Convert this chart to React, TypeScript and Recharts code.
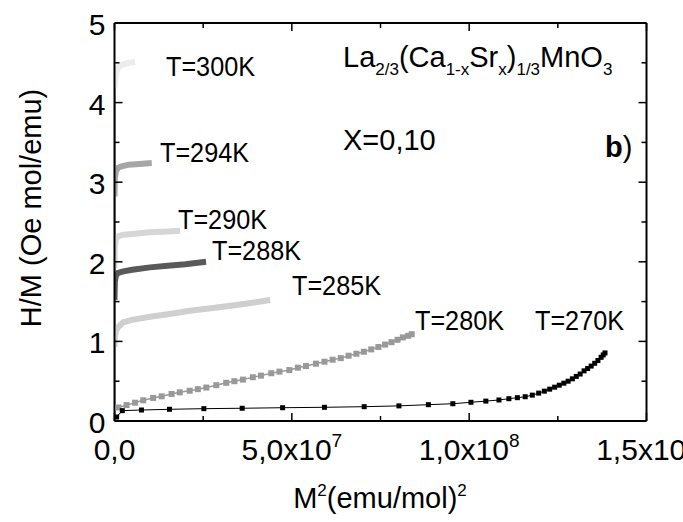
import { LineChart, Line, XAxis, YAxis } from "recharts"

// M^2 in units of 1e6 (emu/mol)^2, H/M in Oe mol/emu
const t300M2 = [0, 0.2, 0.6, 1.2, 2.4, 4, 5.8]
const t300HM = [4.18, 4.3, 4.4, 4.45, 4.48, 4.5, 4.51]

const t294M2 = [0, 0.1, 0.4, 1, 2, 4, 7, 10.5]
const t294HM = [2.82, 3.05, 3.14, 3.18, 3.2, 3.22, 3.23, 3.24]

const t290M2 = [0, 0.1, 0.4, 1, 2.5, 5, 10, 15, 18.5]
const t290HM = [1.92, 2.2, 2.29, 2.32, 2.34, 2.35, 2.37, 2.38, 2.39]

const t288M2 = [0, 0.1, 0.4, 1, 2.5, 5, 10, 15, 20, 25.8]
const t288HM = [1.52, 1.75, 1.83, 1.86, 1.88, 1.9, 1.93, 1.95, 1.97, 2.0]

const t285M2 = [0, 0.1, 0.4, 1, 2.5, 5, 10, 15, 21.3, 30.6, 38, 43.9]
const t285HM = [0.93, 1.05, 1.13, 1.18, 1.24, 1.27, 1.31, 1.34, 1.385, 1.436, 1.48, 1.52]

const t280M2 = [
  1.1, 3.4, 5.8, 8.1, 10.9, 13.3, 16.1, 18.4, 21.2, 23.5, 25.9, 28.7, 31.5, 33.8,
  36.2, 39, 41.3, 44.2, 46.5, 49.3, 51.7, 54, 56.8, 59.2, 61.5, 63.8, 66, 68.2,
  70.3, 72.4, 74.4, 76.3, 78.1, 79.8, 81.3, 82.8, 83.8,
]
const t280HM = [
  0.17, 0.2, 0.23, 0.26, 0.29, 0.31, 0.34, 0.36, 0.38, 0.4, 0.42, 0.45, 0.48, 0.5,
  0.52, 0.55, 0.57, 0.6, 0.62, 0.64, 0.67, 0.69, 0.72, 0.745, 0.77, 0.79, 0.82, 0.845,
  0.87, 0.9, 0.93, 0.96, 0.99, 1.02, 1.05, 1.07, 1.09,
]

const t270M2 = [
  0.6, 2.2, 7.6, 15.5, 25.2, 36, 47.4, 59.2, 70.4, 80.2, 88.5, 95.4, 100.5, 104.7,
  108.4, 111.2, 113.6, 115.8, 117.8, 119.6, 121.2, 122.7, 124.1, 125.4, 126.7, 127.9,
  129.1, 130.2, 131.3, 132.4, 133.4, 134.4, 135.4, 136.3, 137.2, 137.8, 138.3,
]
const t270HM = [
  0.05, 0.13, 0.138, 0.147, 0.155, 0.16, 0.167, 0.172, 0.18, 0.19, 0.205, 0.217, 0.235, 0.25,
  0.264, 0.28, 0.293, 0.305, 0.325, 0.35, 0.375, 0.4, 0.425, 0.45, 0.475, 0.5,
  0.53, 0.56, 0.59, 0.63, 0.66, 0.69, 0.725, 0.76, 0.8, 0.83, 0.855,
]

// low-field trace running along the H/M axis
const lowM2 = [0, 0]
const lowHM = [4.2, 0]

const m2Ticks = [0, 25, 50, 75, 100, 125, 150]
const m2Labels: Record<number, [string, string]> = {
  0: ["0,0", ""],
  50: ["5,0x10", "7"],
  100: ["1,0x10", "8"],
  150: ["1,5x10", "8"],
}
const hmTicks = [0, 0.5, 1, 1.5, 2, 2.5, 3, 3.5, 4, 4.5, 5]
const hmLabels: Record<number, string> = { 0: "0", 1: "1", 2: "2", 3: "3", 4: "4", 5: "5" }

const tempLabels = ["T=300K", "T=294K", "T=290K", "T=288K", "T=285K", "T=280K", "T=270K"]
const tempLabelPos = [
  [166, 76], [160, 162], [178, 229], [212, 260], [292, 295], [415, 330], [535, 330],
]

const toPoints = (xs: number[], ys: number[]) => xs.map((x, i) => ({ x, y: ys[i] }))

const FONT = "'Liberation Sans', Arial, sans-serif"

const BottomTick = (props: any) => {
  const { x, y, payload } = props
  const lab = m2Labels[payload.value]
  return (
    <g>
      <line x1={x} x2={x} y1={y} y2={y - (lab ? 8 : 5)} stroke="#000" strokeWidth={1.5} />
      {lab && (
        <text x={x} y={y + 39} textAnchor="middle" fontSize={30} fontFamily={FONT} fill="#000">
          {lab[0]}
          {lab[1] && <tspan dy={-13} fontSize={19}>{lab[1]}</tspan>}
        </text>
      )}
    </g>
  )
}

const TopTick = (props: any) => {
  const { x, y, payload } = props
  const major = m2Labels[payload.value] !== undefined
  return <line x1={x} x2={x} y1={y} y2={y + (major ? 8 : 5)} stroke="#000" strokeWidth={1.5} />
}

const LeftTick = (props: any) => {
  const { x, y, payload } = props
  const lab = hmLabels[payload.value]
  return (
    <g>
      <line x1={x} x2={x + (lab ? 8 : 5)} y1={y} y2={y} stroke="#000" strokeWidth={1.5} />
      {lab && (
        <text x={x - 9} y={y + 12} textAnchor="end" fontSize={30} fontFamily={FONT} fill="#000">
          {lab}
        </text>
      )}
    </g>
  )
}

const RightTick = (props: any) => {
  const { x, y, payload } = props
  const major = hmLabels[payload.value] !== undefined
  return <line x1={x} x2={x - (major ? 8 : 5)} y1={y} y2={y} stroke="#000" strokeWidth={1.5} />
}

const squareDot = (size: number, color: string) => (p: any) => (
  <rect
    key={`d${p.index}`}
    x={p.cx - size / 2}
    y={p.cy - size / 2}
    width={size}
    height={size}
    fill={color}
  />
)

export default function App() {
  const axisLine = { stroke: "#000", strokeWidth: 2 }
  return (
    <div style={{ position: "absolute", left: 0, top: 0, width: 683, height: 522, background: "#fff" }}>
      <LineChart width={683} height={522} margin={{ top: 22, right: 35.5, bottom: 100, left: 113.5 }}>
        <XAxis
          xAxisId="b"
          dataKey="x"
          type="number"
          domain={[0, 150]}
          ticks={m2Ticks}
          interval={0}
          height={1}
          tickSize={0}
          tickMargin={0}
          tickLine={false}
          axisLine={axisLine}
          tick={<BottomTick />}
          allowDataOverflow
        />
        <XAxis
          xAxisId="t"
          orientation="top"
          dataKey="x"
          type="number"
          domain={[0, 150]}
          ticks={m2Ticks}
          interval={0}
          height={1}
          tickSize={0}
          tickMargin={0}
          tickLine={false}
          axisLine={axisLine}
          tick={<TopTick />}
          allowDataOverflow
        />
        <YAxis
          yAxisId="l"
          type="number"
          domain={[0, 5]}
          ticks={hmTicks}
          interval={0}
          width={1}
          tickSize={0}
          tickMargin={0}
          tickLine={false}
          axisLine={axisLine}
          tick={<LeftTick />}
          allowDataOverflow
        />
        <YAxis
          yAxisId="r"
          orientation="right"
          type="number"
          domain={[0, 5]}
          ticks={hmTicks}
          interval={0}
          width={1}
          tickSize={0}
          tickMargin={0}
          tickLine={false}
          axisLine={axisLine}
          tick={<RightTick />}
          allowDataOverflow
        />
        <Line xAxisId="b" yAxisId="l" data={toPoints(lowM2, lowHM)} dataKey="y" stroke="#a0a0a0" strokeWidth={2.5} dot={false} activeDot={false} isAnimationActive={false} />
        <Line xAxisId="b" yAxisId="l" data={toPoints(t300M2, t300HM)} dataKey="y" stroke="#ececec" strokeWidth={6} dot={false} activeDot={false} isAnimationActive={false} />
        <Line xAxisId="b" yAxisId="l" data={toPoints(t294M2, t294HM)} dataKey="y" stroke="#a6a6a6" strokeWidth={6} dot={false} activeDot={false} isAnimationActive={false} />
        <Line xAxisId="b" yAxisId="l" data={toPoints(t290M2, t290HM)} dataKey="y" stroke="#d6d6d6" strokeWidth={6} dot={false} activeDot={false} isAnimationActive={false} />
        <Line xAxisId="b" yAxisId="l" data={toPoints(t288M2, t288HM)} dataKey="y" stroke="#595959" strokeWidth={6} dot={false} activeDot={false} isAnimationActive={false} />
        <Line xAxisId="b" yAxisId="l" data={toPoints(t285M2, t285HM)} dataKey="y" stroke="#cfcfcf" strokeWidth={6} dot={false} activeDot={false} isAnimationActive={false} />
        <Line xAxisId="b" yAxisId="l" data={toPoints(t280M2, t280HM)} dataKey="y" stroke="#999999" strokeWidth={1.5} dot={squareDot(6, "#999999")} activeDot={false} isAnimationActive={false} />
        <Line xAxisId="b" yAxisId="l" data={toPoints(t270M2, t270HM)} dataKey="y" stroke="#000" strokeWidth={1} dot={squareDot(5, "#000")} activeDot={false} isAnimationActive={false} />
      </LineChart>
      <svg width={683} height={522} style={{ position: "absolute", left: 0, top: 0, pointerEvents: "none" }} fontFamily={FONT} fill="#000">
        {tempLabels.map((t, i) => (
          <text key={t} x={tempLabelPos[i][0]} y={tempLabelPos[i][1]} fontSize={28} textLength={89} lengthAdjust="spacingAndGlyphs">
            {t}
          </text>
        ))}
        <text x={343} y={67} fontSize={29}>
          La<tspan dy={8} fontSize={17}>2/3</tspan>
          <tspan dy={-8}>(Ca</tspan>
          <tspan dy={8} fontSize={17}>1-x</tspan>
          <tspan dy={-8}>Sr</tspan>
          <tspan dy={8} fontSize={17}>x</tspan>
          <tspan dy={-8}>)</tspan>
          <tspan dy={8} fontSize={17}>1/3</tspan>
          <tspan dy={-8}>MnO</tspan>
          <tspan dy={8} fontSize={17}>3</tspan>
        </text>
        <text x={343} y={150} fontSize={29}>X=0,10</text>
        <text x={605} y={157} fontSize={29}>
          <tspan fontWeight="bold">b</tspan>)
        </text>
        <text transform="translate(41,208) rotate(-90)" textAnchor="middle" fontSize={29}>
          H/M (Oe mol/emu)
        </text>
        <text x={380} y={508} textAnchor="middle" fontSize={29}>
          M<tspan dy={-12} fontSize={17}>2</tspan>
          <tspan dy={12}>(emu/mol)</tspan>
          <tspan dy={-12} fontSize={17}>2</tspan>
        </text>
      </svg>
    </div>
  )
}
